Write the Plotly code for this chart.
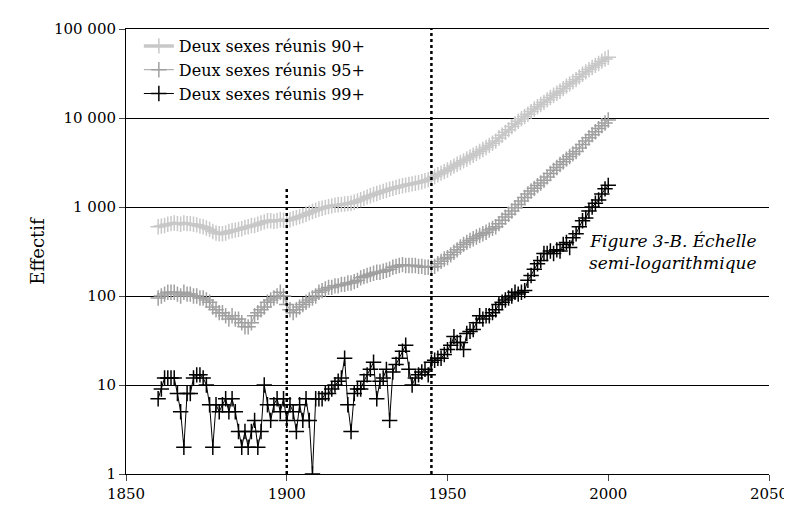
import plotly.graph_objects as go

years = list(range(1860, 2001))

# Deux sexes réunis 90+
s90 = [600, 610, 620, 640, 650, 660, 650, 640, 660, 650,
       650, 640, 630, 610, 600, 580, 560, 530, 510, 500,
       500, 510, 530, 540, 550, 560, 570, 590, 600, 620,
       620, 640, 660, 680, 700, 700, 690, 700, 720, 710,
       700, 720, 740, 760, 780, 800, 830, 860, 890, 920,
       950, 970, 990, 1010, 1030, 1050, 1060, 1070, 1080, 1090,
       1100, 1130, 1170, 1210, 1250, 1300, 1340, 1380, 1420, 1460,
       1500, 1540, 1580, 1620, 1660, 1700, 1730, 1760, 1790, 1820,
       1850, 1880, 1920, 1970, 2030, 2100, 2200, 2300, 2400, 2500,
       2600, 2740, 2880, 3020, 3160, 3300, 3460, 3640, 3820, 4000,
       4200, 4420, 4660, 4920, 5200, 5500, 5950, 6400, 6900, 7400,
       8000, 8600, 9200, 9800, 10400, 11000, 11800, 12600, 13400, 14200,
       15000, 16000, 17000, 18000, 19000, 20000, 21400, 22800, 24200, 25600,
       27000, 29000, 31000, 33000, 35000, 37000, 39000, 41000, 43500, 46000,
       48000]

# Deux sexes réunis 95+
s95 = [95, 100, 105, 110, 110, 110, 105, 100, 110, 105,
       105, 100, 100, 95, 95, 90, 85, 75, 70, 65,
       65, 60, 55, 60, 55, 55, 50, 45, 45, 50,
       60, 65, 70, 75, 85, 90, 95, 100, 110, 100,
       80, 70, 65, 70, 75, 80, 85, 90, 95, 100,
       110, 115, 120, 125, 125, 130, 130, 135, 135, 140,
       140, 145, 150, 160, 165, 170, 175, 180, 185, 185,
       190, 195, 200, 210, 215, 220, 225, 220, 220, 220,
       220, 215, 215, 210, 210, 210, 215, 230, 245, 260,
       270, 290, 310, 330, 355, 380, 400, 420, 440, 460,
       480, 500, 520, 550, 575, 600, 650, 710, 770, 830,
       900, 980, 1070, 1170, 1280, 1400, 1510, 1620, 1740, 1860,
       2000, 2180, 2380, 2580, 2780, 3000, 3220, 3450, 3700, 3950,
       4200, 4600, 5050, 5500, 6000, 6500, 7000, 7600, 8200, 8800,
       9500]

# Deux sexes réunis 99+
s99 = [7, 9, 12, 12, 12, 12, 8, 5, 2, 8,
       8, 12, 13, 13, 12, 10, 6, 2, 6, 5,
       6, 7, 5, 7, 5, 3, 2, 3, 2, 3,
       4, 2, 3, 10, 6, 4, 6, 7, 5, 7,
       4, 6, 5, 3, 6, 4, 7, 4, 1, 7,
       7, 7, 8, 8, 9, 10, 11, 12, 20, 6,
       3, 8, 9, 9, 11, 13, 15, 18, 7, 11,
       12, 15, 4, 14, 17, 20, 24, 28, 15, 10,
       12, 13, 14, 15, 13, 18, 19, 20, 20, 22,
       25, 28, 35, 30, 30, 25, 38, 40, 42, 50,
       60, 55, 60, 60, 65, 70, 80, 85, 90, 95,
       100, 110, 105, 110, 115, 150, 170, 200, 230, 250,
       300, 300, 320, 300, 330, 320, 380, 400, 350, 450,
       500, 600, 700, 750, 900, 1000, 1100, 1200, 1400, 1600,
       1750]

series = [
    ("Deux sexes réunis 90+", s90, "#c8c8c8", 3.5),
    ("Deux sexes réunis 95+", s95, "#a0a0a0", 1),
    ("Deux sexes réunis 99+", s99, "#000000", 1),
]

fig = go.Figure()
for name, vals, color, width in series:
    fig.add_trace(go.Scatter(
        x=years, y=vals, name=name, mode="lines+markers",
        line=dict(color=color, width=width),
        marker=dict(symbol="cross-thin", size=11, line=dict(color=color, width=1.5)),
    ))

# dotted reference lines
fig.add_shape(type="line", x0=1900, x1=1900, y0=1, y1=1600, xref="x", yref="y",
              line=dict(color="black", width=2.5, dash="dot"))
fig.add_shape(type="line", x0=1945, x1=1945, y0=1, y1=100000, xref="x", yref="y",
              line=dict(color="black", width=2.5, dash="dot"))

fig.add_annotation(x=0.985, y=0.5, xref="paper", yref="paper", xanchor="right",
                   text="<i>Figure 3-B. Échelle<br>semi-logarithmique</i>",
                   showarrow=False, align="right", font=dict(size=17))

fig.update_layout(
    width=792, height=509,
    margin=dict(l=118, r=27, t=17, b=43),
    plot_bgcolor="white", paper_bgcolor="white",
    font=dict(family="DejaVu Serif", size=15, color="black"),
    showlegend=True,
    legend=dict(x=0.02, y=1.0, xanchor="left", yanchor="top",
                bgcolor="rgba(255,255,255,0)", font=dict(size=16), tracegroupgap=0),
    xaxis=dict(range=[1850, 2050], tickvals=[1850, 1900, 1950, 2000, 2050],
               showgrid=False, showline=True, linecolor="black", mirror=True,
               ticks="outside", ticklen=6, zeroline=False),
    yaxis=dict(type="log", range=[0, 5],
               tickvals=[1, 10, 100, 1000, 10000, 100000],
               ticktext=["1", "10", "100", "1 000", "10 000", "100 000"],
               showgrid=True, gridcolor="black", gridwidth=1,
               showline=True, linecolor="black", ticks="outside", ticklen=6,
               title=dict(text="Effectif", standoff=4)),
)

fig.write_html("out.html")
